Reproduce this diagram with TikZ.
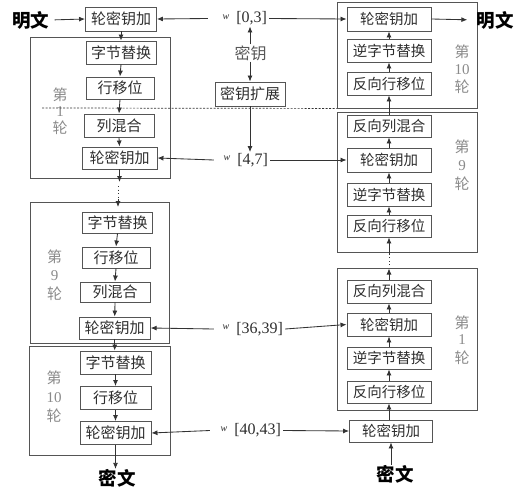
\documentclass[tikz,border=0pt]{standalone}
\usepackage{fontspec}
\setmainfont{Liberation Serif}
\newfontfamily\cjk{Noto Sans CJK SC}
\usetikzlibrary{arrows.meta}
\definecolor{ln}{HTML}{333333}
\definecolor{bx}{HTML}{555555}
\definecolor{gl}{HTML}{8A8A8A}
\definecolor{tx}{HTML}{2E2E2E}
\tikzset{
 arr/.style={draw=ln, line width=0.85pt, -{Latex[length=6pt,width=5pt]}},
 dots/.style={draw=ln, line width=0.9pt, dash pattern=on 0.9pt off 2.6pt},
 dashln/.style={draw=ln, line width=0.7pt, dash pattern=on 2pt off 1.5pt},
 rnd/.style={draw=bx, line width=0.9pt, inner sep=0pt},
 opbox/.style={draw=bx, line width=0.9pt, inner sep=0pt, minimum height=22pt, font=\cjk\fontsize{15}{15}\selectfont, text=tx},
 ropbox/.style={opbox, minimum width=84pt, font=\cjk\fontsize{14.5}{15}\selectfont},
 glab/.style={text=gl, font=\cjk\fontsize{15}{15}\selectfont, inner sep=0pt},
 gnum/.style={text=gl, font=\fontsize{15}{15}\selectfont, inner sep=0pt},
 big/.style={font=\cjk\bfseries\fontsize{18.5}{19}\selectfont, text=black, inner sep=0pt},
 wlab/.style={inner xsep=2pt, inner ysep=1pt, align=right, font=\fontsize{16}{16}\selectfont, text=tx},
}
\newcommand{\wsym}{\raisebox{3.5pt}{\fontsize{10}{10}\selectfont\itshape w}\hspace{7pt}}
\begin{document}
\begin{tikzpicture}[x=1pt,y=-1pt]
\useasboundingbox (0,0) rectangle (527,500);
% ---------- left column ----------
\node[big] (pt) at (31,20) {明文};
\node[opbox, minimum width=71pt, minimum height=24pt] (t0) at (121,19) {轮密钥加};
\node[rnd, minimum width=140pt, minimum height=141pt] (R1) at (100,107.5) {};
\node[opbox, minimum width=70pt, minimum height=23pt] (s1) at (121,52.5) {字节替换};
\node[opbox, minimum width=68pt] (r1) at (120,88) {行移位};
\node[opbox, minimum width=70pt, minimum height=23pt] (c1) at (119,125.5) {列混合};
\node[opbox, minimum width=75pt] (k1) at (119.5,158) {轮密钥加};
\node[glab] (l1a) at (60,95) {第};
\node[gnum] (l1b) at (60,112) {1};
\node[glab] (l1c) at (60,128) {轮};

\node[rnd, minimum width=139pt, minimum height=141pt] (R9) at (99.5,272.5) {};
\node[opbox, minimum width=70pt, minimum height=21pt] (s9) at (117.5,222.5) {字节替换};
\node[opbox, minimum width=68pt, minimum height=21pt] (r9) at (116,257.5) {行移位};
\node[opbox, minimum width=70pt, minimum height=20pt] (c9) at (115,292) {列混合};
\node[opbox, minimum width=71pt] (k9) at (114.7,328) {轮密钥加};
\node[glab] (l9a) at (54.5,257) {第};
\node[gnum] (l9b) at (54.5,276) {9};
\node[glab] (l9c) at (54.5,294) {轮};

\node[rnd, minimum width=141pt, minimum height=109pt] (R10) at (100,400.5) {};
\node[opbox, minimum width=71pt, minimum height=23pt] (s10) at (115.5,362.5) {字节替换};
\node[opbox, minimum width=71pt, minimum height=23pt] (r10) at (115.5,398) {行移位};
\node[opbox, minimum width=71pt, minimum height=23pt] (k10) at (115.5,433) {轮密钥加};
\node[glab] (l10a) at (54,378) {第};
\node[gnum] (l10b) at (54,398) {10};
\node[glab] (l10c) at (54,416) {轮};
\node[big] (ct) at (117,478) {密文};

% ---------- middle ----------
\node[wlab, text width=57pt] (w03) at (238.5,18.5) {\wsym[0,3]};
\node[text=tx!80, inner sep=1pt, font=\cjk\fontsize{16}{16}\selectfont] (key) at (250.5,53) {密钥};
\node[opbox, minimum width=70pt, minimum height=24pt] (kx) at (250,94) {密钥扩展};
\node[wlab, text width=52pt] (w47) at (242,160) {\wsym[4,7]};
\node[wlab, text width=67pt] (w3639) at (249.5,329) {\wsym[36,39]};
\node[wlab, text width=69pt] (w4043) at (246.5,430.5) {\wsym[40,43]};

% ---------- right column ----------
\node[rnd, minimum width=140pt, minimum height=106pt] (RR10) at (407,55) {};
\node[ropbox, minimum height=24pt] (ak10) at (389,19) {轮密钥加};
\node[ropbox, minimum height=23pt] (is10) at (389,50.5) {逆字节替换};
\node[ropbox, minimum height=23pt] (ir10) at (389,83.5) {反向行移位};
\node[glab] (m10a) at (462,52) {第};
\node[gnum] (m10b) at (462,70) {10};
\node[glab] (m10c) at (462,87) {轮};
\node[big] (pr) at (495,20) {明文};

\node[rnd, minimum width=140pt, minimum height=140pt] (RR9) at (407,182) {};
\node[ropbox] (mc9) at (389,126) {反向列混合};
\node[ropbox, minimum height=24pt] (ak9) at (389,160) {轮密钥加};
\node[ropbox, minimum height=23pt] (is9) at (389,194.5) {逆字节替换};
\node[ropbox] (ir9) at (389,226) {反向行移位};
\node[glab] (m9a) at (462,147) {第};
\node[gnum] (m9b) at (462,166) {9};
\node[glab] (m9c) at (462,184) {轮};

\node[rnd, minimum width=140pt, minimum height=142pt] (RR1) at (407,339) {};
\node[ropbox, minimum height=23pt] (mc1) at (389,291.5) {反向列混合};
\node[ropbox, minimum height=23pt] (ak1) at (389,324.5) {轮密钥加};
\node[ropbox] (is1) at (389,358) {逆字节替换};
\node[ropbox] (ir1) at (389,392) {反向行移位};
\node[glab] (m1a) at (462,323) {第};
\node[gnum] (m1b) at (462,340) {1};
\node[glab] (m1c) at (462,358) {轮};

\node[ropbox, minimum width=83pt] (akf) at (391,431) {轮密钥加};
\node[big] (cr) at (395,474) {密文};

% ---------- helper coordinates ----------
\coordinate (da) at (119.5,182);
\coordinate (db) at (118,186);
\coordinate (dc) at (118,199);
\coordinate (dd) at (118,207);
\coordinate (ea) at (389,268.5);
\coordinate (eb) at (389,265);
\coordinate (ec) at (389,255);
\coordinate (dl) at (42,108);

% ---------- connectors: left ----------
\draw[arr, shorten <=5pt] (pt.east) -- (t0.west);
\draw[arr] (t0.south) -- (s1.north);
\draw[arr] (s1.south) -- (r1.north);
\draw[arr] (r1.south) -- (c1.north);
\draw[arr] (c1.south) -- (k1.north);
\draw[arr] (k1.south) -- (da);
\draw[dots] (db) -- (dc);
\draw[arr] (dc) -- (dd);
\draw[arr] (s9.south) -- (r9.north);
\draw[arr] (r9.south) -- (c9.north);
\draw[arr] (c9.south) -- (k9.north);
\draw[arr] (k9.south) -- (k9.south |- s10.north);
\draw[arr] (s10.south) -- (r10.north);
\draw[arr] (r10.south) -- (k10.north);
\draw[arr] (k10.south) -- (k10.south |- ct.north);

% ---------- connectors: middle ----------
\draw[dashln] (dl) -- (RR10.south west);
\draw[arr] (key.north -| kx.north) -- (w03.south -| kx.north);
\draw[arr] (key.south -| kx.north) -- (kx.north);
\draw[arr] (kx.south) -- (kx.south |- w47.north);
\draw[arr] (w03.west) -- (t0.east);
\draw[arr] (w03.east) -- (ak10.west);
\draw[arr] (w47.west) -- (k1.east);
\draw[arr] (w47.east) -- (ak9.west);
\draw[arr] (w3639.west) -- (k9.east);
\draw[arr] (w3639.east) -- (ak1.west);
\draw[arr] (w4043.west) -- (k10.east);
\draw[arr] (w4043.east) -- (akf.west);

% ---------- connectors: right ----------
\draw[arr] (akf.south |- cr.north) -- (akf.south);
\draw[arr] (akf.north -| ir1.south) -- (ir1.south);
\draw[arr] (ir1.north) -- (is1.south);
\draw[arr] (is1.north) -- (ak1.south);
\draw[arr] (ak1.north) -- (mc1.south);
\draw[arr] (mc1.north) -- (ea);
\draw[dots] (eb) -- (ec);
\draw[arr] (ec) -- (ir9.south);
\draw[arr] (ir9.north) -- (is9.south);
\draw[arr] (is9.north) -- (ak9.south);
\draw[arr] (ak9.north) -- (mc9.south);
\draw[arr] (mc9.north) -- (ir10.south);
\draw[arr] (ir10.north) -- (is10.south);
\draw[arr] (is10.north) -- (ak10.south);
\draw[arr, shorten >=9pt] (ak10.east) -- (pr.west);
\end{tikzpicture}
\end{document}
